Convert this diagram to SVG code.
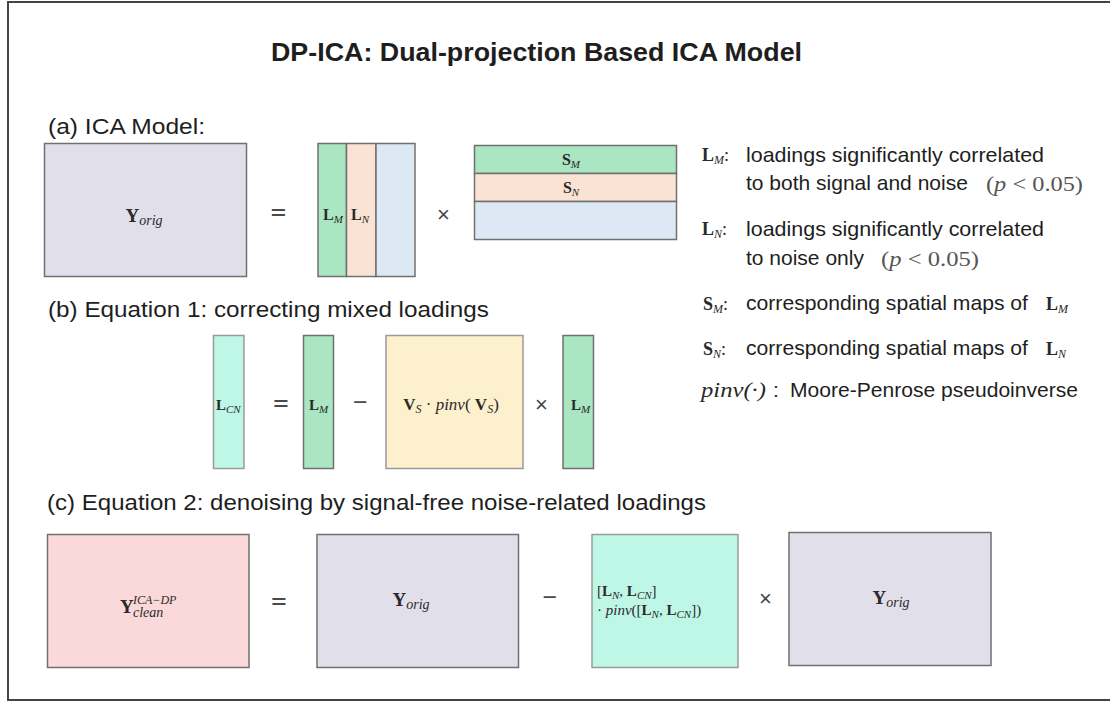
<svg xmlns="http://www.w3.org/2000/svg" width="1110" height="702" viewBox="0 0 1110 702">
<style>
.box{stroke:#707070;stroke-width:1.5}
.lt{stroke:#9a9a9a;stroke-width:1.5}
.lav{fill:#e1dfea}
.grn{fill:#a9e6c1}
.pch{fill:#fae3d4}
.blu{fill:#dde8f5}
.mnt{fill:#bff7e6}
.yel{fill:#fdf0cc}
.pnk{fill:#fbd9da}
.t{font-family:"Liberation Sans",Arial,sans-serif;fill:#1e1e1e}
.h{font-size:22px}
.lg{font-size:21px}
.m{font-family:"Liberation Serif","Times New Roman",serif;fill:#2a2a2a}
.b{font-weight:bold}
.i{font-style:italic}
.op{font-family:"Liberation Serif",serif;fill:#4a4a4a;font-weight:bold}
.x{font-family:"Liberation Sans",sans-serif;fill:#444;font-size:22px}
.g{fill:#555}
</style>
<rect x="8" y="2" width="1110" height="698" fill="#ffffff" stroke="#444" stroke-width="2"/>

<text id="title" class="t b" x="271" y="61" font-size="26" textLength="531" lengthAdjust="spacingAndGlyphs">DP-ICA: Dual-projection Based ICA Model</text>

<text class="t h" x="48" y="134" textLength="157" lengthAdjust="spacingAndGlyphs">(a) ICA Model:</text>
<text class="t h" x="48" y="317" textLength="441" lengthAdjust="spacingAndGlyphs">(b) Equation 1: correcting mixed loadings</text>
<text class="t h" x="47" y="510" textLength="659" lengthAdjust="spacingAndGlyphs">(c) Equation 2: denoising by signal-free noise-related loadings</text>

<!-- (a) -->
<g id="a-yorig">
<rect class="box lav" x="44.5" y="143.5" width="202" height="133"/>
<text class="m" x="144" y="222" text-anchor="middle"><tspan class="b" font-size="19">Y</tspan><tspan class="i" font-size="14" dy="3">orig</tspan></text>
</g>
<g id="a-loadings">
<rect class="box grn" x="318" y="143.5" width="28.5" height="133"/>
<rect class="box pch" x="346.5" y="143.5" width="29.5" height="133"/>
<rect class="box blu" x="376" y="143.5" width="39" height="133"/>
<text class="m" x="323" y="220"><tspan class="b" font-size="16">L</tspan><tspan class="i" font-size="11" dy="3">M</tspan></text>
<text class="m" x="351" y="220"><tspan class="b" font-size="16">L</tspan><tspan class="i" font-size="11" dy="3">N</tspan></text>
</g>
<g id="a-maps">
<rect class="box grn" x="474.5" y="145.5" width="202" height="28"/>
<rect class="box pch" x="474.5" y="173.5" width="202" height="28"/>
<rect class="box blu" x="474.5" y="201.5" width="202" height="38"/>
<text class="m" x="571" y="165" text-anchor="middle"><tspan class="b" font-size="16">S</tspan><tspan class="i" font-size="11" dy="3">M</tspan></text>
<text class="m" x="571" y="193" text-anchor="middle"><tspan class="b" font-size="16">S</tspan><tspan class="i" font-size="11" dy="3">N</tspan></text>
</g>

<!-- legend -->
<g id="legend">
<text class="m" x="702" y="161"><tspan class="b" font-size="18">L</tspan><tspan class="i" font-size="12" dy="3">M</tspan><tspan dy="-3" font-size="18">:</tspan></text>
<text class="t lg" x="746" y="162" textLength="298" lengthAdjust="spacingAndGlyphs">loadings significantly correlated</text>
<text class="t lg" x="746" y="190">to both signal and noise</text>
<text class="m g" x="986" y="191" font-size="20" textLength="97" lengthAdjust="spacingAndGlyphs">(<tspan class="i">p</tspan> &lt; 0.05)</text>

<text class="m" x="702" y="235"><tspan class="b" font-size="18">L</tspan><tspan class="i" font-size="12" dy="3">N</tspan><tspan dy="-3" font-size="18">:</tspan></text>
<text class="t lg" x="746" y="236" textLength="298" lengthAdjust="spacingAndGlyphs">loadings significantly correlated</text>
<text class="t lg" x="746" y="265">to noise only</text>
<text class="m g" x="881" y="266" font-size="20" textLength="98" lengthAdjust="spacingAndGlyphs">(<tspan class="i">p</tspan> &lt; 0.05)</text>

<text class="m" x="703" y="310"><tspan class="b" font-size="18">S</tspan><tspan class="i" font-size="12" dy="3">M</tspan><tspan dy="-3" font-size="18">:</tspan></text>
<text class="t lg" x="746" y="310" textLength="282" lengthAdjust="spacingAndGlyphs">corresponding spatial maps of</text>
<text class="m" x="1046" y="310"><tspan class="b" font-size="18">L</tspan><tspan class="i" font-size="12" dy="3">M</tspan></text>

<text class="m" x="703" y="355"><tspan class="b" font-size="18">S</tspan><tspan class="i" font-size="12" dy="3">N</tspan><tspan dy="-3" font-size="18">:</tspan></text>
<text class="t lg" x="746" y="355" textLength="282" lengthAdjust="spacingAndGlyphs">corresponding spatial maps of</text>
<text class="m" x="1046" y="355"><tspan class="b" font-size="18">L</tspan><tspan class="i" font-size="12" dy="3">N</tspan></text>

<text class="m i" x="701" y="397" font-size="20" textLength="65" lengthAdjust="spacingAndGlyphs">pinv(·)</text>
<text class="t lg" x="773" y="397">:</text>
<text class="t lg" x="790" y="397" textLength="288" lengthAdjust="spacingAndGlyphs">Moore-Penrose pseudoinverse</text>
</g>

<!-- (b) -->
<g id="b-lcn">
<rect class="lt mnt" x="213.5" y="335.5" width="30.5" height="133"/>
<text class="m" x="216" y="410"><tspan class="b" font-size="15">L</tspan><tspan class="i" font-size="11" dy="3">CN</tspan></text>
</g>
<g id="b-lm">
<rect class="box grn" x="303.5" y="335.5" width="30" height="133"/>
<text class="m" x="309" y="410"><tspan class="b" font-size="15">L</tspan><tspan class="i" font-size="11" dy="3">M</tspan></text>
</g>
<g id="b-proj">
<rect class="lt yel" x="386" y="335.5" width="137" height="133"/>
<text class="m" x="451" y="410" text-anchor="middle" font-size="17"><tspan class="b">V</tspan><tspan class="i" font-size="12" dy="3">S</tspan><tspan dy="-3"> · </tspan><tspan class="i">pinv</tspan>( <tspan class="b">V</tspan><tspan class="i" font-size="12" dy="3">S</tspan><tspan dy="-3">)</tspan></text>
</g>
<g id="b-lm2">
<rect class="box grn" x="563" y="335.5" width="30.5" height="133"/>
<text class="m" x="571" y="410"><tspan class="b" font-size="15">L</tspan><tspan class="i" font-size="11" dy="3">M</tspan></text>
</g>

<!-- (c) -->
<g id="c-clean">
<rect class="box pnk" x="47.5" y="534.5" width="201.5" height="133"/>
<text class="m b" x="120" y="613" font-size="19">Y</text>
<text class="m i" x="133" y="604" font-size="12">ICA−DP</text>
<text class="m i" x="133" y="617" font-size="14">clean</text>
</g>
<g id="c-yorig">
<rect class="box lav" x="317" y="534.5" width="201.5" height="133"/>
<text class="m" x="411" y="606" text-anchor="middle"><tspan class="b" font-size="19">Y</tspan><tspan class="i" font-size="14" dy="3">orig</tspan></text>
</g>
<g id="c-proj">
<rect class="lt mnt" x="592" y="534.5" width="146" height="133"/>
<text class="m" x="597" y="596" font-size="15">[<tspan class="b">L</tspan><tspan class="i" font-size="11" dy="3">N</tspan><tspan dy="-3">, </tspan><tspan class="b">L</tspan><tspan class="i" font-size="11" dy="3">CN</tspan><tspan dy="-3">]</tspan></text>
<text class="m" x="597" y="615" font-size="15">· <tspan class="i">pinv</tspan>([<tspan class="b">L</tspan><tspan class="i" font-size="11" dy="3">N</tspan><tspan dy="-3">, </tspan><tspan class="b">L</tspan><tspan class="i" font-size="11" dy="3">CN</tspan><tspan dy="-3">])</tspan></text>
</g>
<g id="c-yorig2">
<rect class="box lav" x="789" y="532.5" width="202" height="133"/>
<text class="m" x="891" y="604" text-anchor="middle"><tspan class="b" font-size="19">Y</tspan><tspan class="i" font-size="14" dy="3">orig</tspan></text>
</g>

<g id="operators">
<text class="op" x="278.5" y="222" font-size="28" text-anchor="middle">=</text>
<text class="x" x="443.5" y="221.5" text-anchor="middle">×</text>
<text class="op" x="281" y="413" font-size="28" text-anchor="middle">=</text>
<text class="op" x="360.5" y="411" font-size="26" text-anchor="middle">−</text>
<text class="x" x="541.5" y="412" text-anchor="middle">×</text>
<text class="op" x="279" y="611" font-size="28" text-anchor="middle">=</text>
<text class="op" x="550" y="606" font-size="26" text-anchor="middle">−</text>
<text class="x" x="765.5" y="605.5" text-anchor="middle">×</text>
</g>
<g id="connectors"/>
</svg>
